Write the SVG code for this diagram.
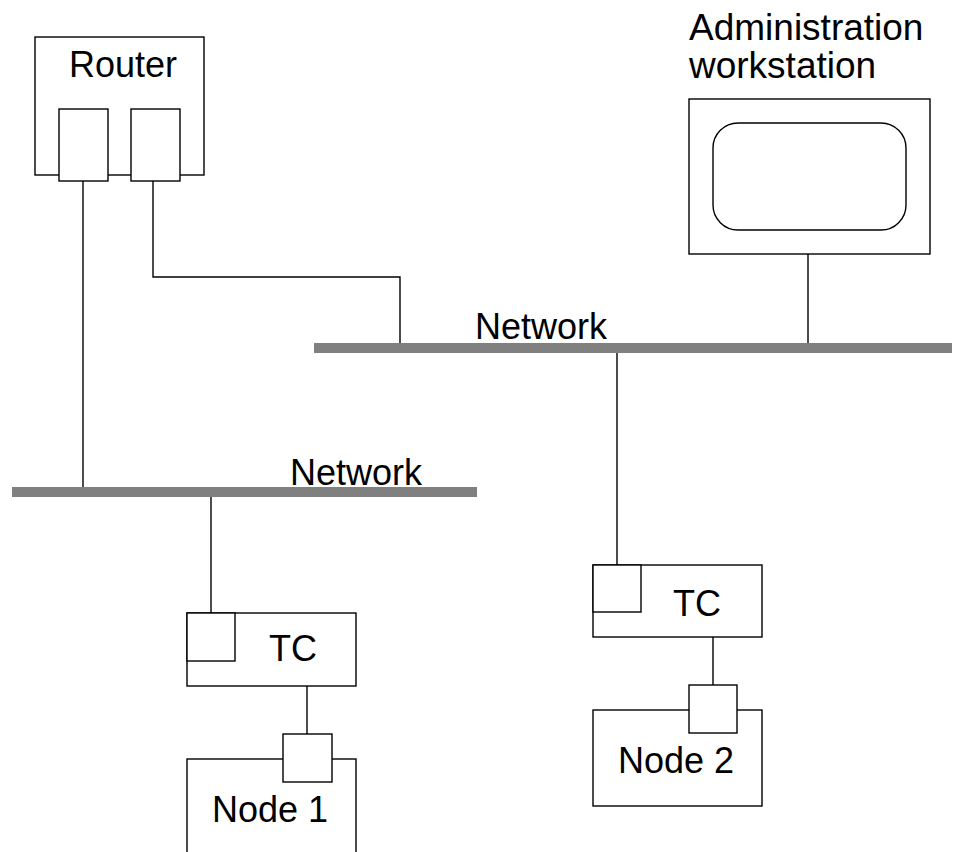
<svg xmlns="http://www.w3.org/2000/svg" width="958" height="852" viewBox="0 0 958 852">
<style>
.b{fill:#fff;stroke:#000;stroke-width:1.4}
.l{fill:none;stroke:#000;stroke-width:1.4}
.bar{fill:#808080}
text{font-family:"Liberation Sans",Arial,sans-serif;font-size:36px;fill:#000}
.big{font-size:37px}
</style>
<rect width="958" height="852" fill="#fff"/>
<g id="connectors">
<path class="l" d="M83 181V490"/>
<path class="l" d="M153 181V277H400V344"/>
<path class="l" d="M808 254V344"/>
<path class="l" d="M617 353V565"/>
<path class="l" d="M211 497V613"/>
<path class="l" d="M307 686V734"/>
<path class="l" d="M713 637V685"/>
</g>
<g id="network-top">
<rect class="bar" x="314" y="343" width="638" height="10"/>
<text x="475" y="339">Network</text>
</g>
<g id="network-bottom">
<rect class="bar" x="12" y="487" width="465" height="10"/>
<text x="290" y="485">Network</text>
</g>
<g id="router">
<rect class="b" x="35" y="37" width="169" height="138"/>
<text x="69" y="77">Router</text>
<rect class="b" x="59" y="109" width="49" height="72"/>
<rect class="b" x="131" y="109" width="49" height="72"/>
</g>
<g id="workstation">
<text class="big" x="689" y="40">Administration</text>
<text class="big" x="689" y="78">workstation</text>
<rect class="b" x="689" y="99" width="241" height="155"/>
<rect class="b" x="713" y="123" width="193" height="107" rx="25" ry="25"/>
</g>
<g id="tc1">
<rect class="b" x="187" y="613" width="169" height="73"/>
<rect class="b" x="187" y="613" width="48" height="48"/>
<text x="269" y="661">TC</text>
</g>
<g id="node1">
<rect class="b" x="187" y="759" width="169" height="100"/>
<rect class="b" x="283" y="734" width="49" height="48"/>
<text x="212" y="822">Node 1</text>
</g>
<g id="tc2">
<rect class="b" x="593" y="565" width="169" height="72"/>
<rect class="b" x="593" y="565" width="48" height="47"/>
<text x="673" y="616">TC</text>
</g>
<g id="node2">
<rect class="b" x="593" y="710" width="169" height="96"/>
<rect class="b" x="689" y="685" width="48" height="48"/>
<text x="618" y="773">Node 2</text>
</g>
</svg>
